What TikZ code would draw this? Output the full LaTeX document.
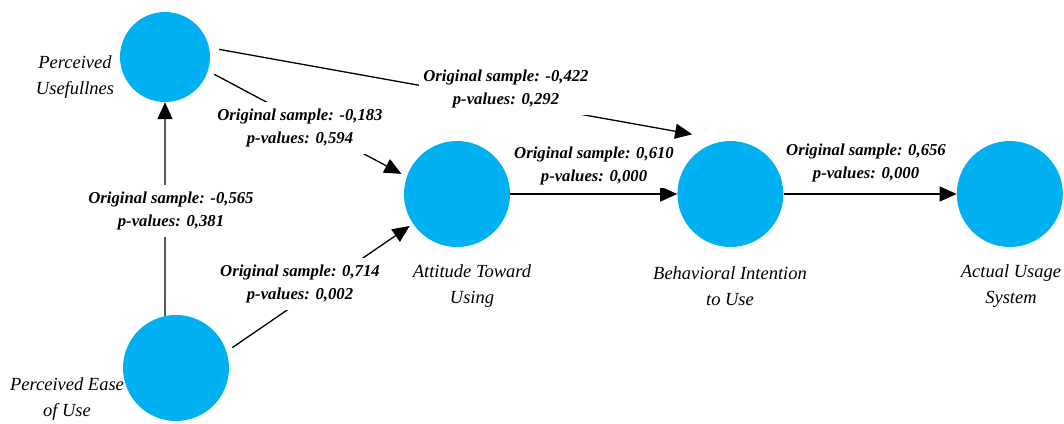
\documentclass[tikz,border=0pt]{standalone}
\usepackage{fontspec}
\setmainfont{Liberation Serif}
\usepackage{tikz}
\usetikzlibrary{arrows.meta,positioning}
\definecolor{construct}{RGB}{0,176,240}

\begin{document}
\begin{tikzpicture}[
			x=1pt, y=-1pt,
			node distance=1.5cm,
			latent/.style={circle, fill=construct, minimum size=106pt, inner sep=0pt},
			varname/.style={align=center, font=\fontsize{18.5}{26.5}\selectfont\itshape},
			coef/.style={align=center, fill=white, inner xsep=4pt, inner ysep=7pt, font=\fontsize{16.7}{23}\selectfont\bfseries\itshape},
			arrow/.style={->, >={Triangle[length=17pt, width=15pt]}, line width=1.3pt}
		]
		\useasboundingbox (0,0) rectangle (1064,423);

		% constructs
		\node[latent, minimum size=90pt] (pu) at (165,57) {};
		\node[latent] (peou) at (176,368) {};
		\node[latent] (atu) at (457,194) {};
		\node[latent, right=167pt of atu] (biu) {};
		\node[latent, right=173pt of biu] (aus) {};

		\node[varname] (pulabel) at (75,77) {Perceived\\Usefullnes};
		\node[varname] (peoulabel) at (67,399) {Perceived Ease\\of Use};
		\node[varname] (atulabel) at (472,286) {Attitude Toward\\Using};
		\node[varname] (biulabel) at (730,286) {Behavioral Intention\\to Use};
		\node[varname] (auslabel) at (1011,286) {Actual Usage\\System};

		% paths
		\draw[arrow] (peou.102) -- (pu.south);
		\draw[arrow, shorten <=7pt, shorten >=6pt] (pu.-18) -- (atu.161);
		\draw[arrow, shorten <=10pt, shorten >=37pt] (pu.12) -- (biu.92);
		\draw[arrow, shorten <=7pt, shorten >=4pt] (peou.18) -- (atu.214);
		\draw[arrow] (atu) -- (biu);
		\draw[arrow] (biu) -- (aus);

		\node[coef] (c1) at (171,211) {Original sample: -0,565\\p-values: 0,381};
		\node[coef] (c2) at (300,128) {Original sample: -0,183\\p-values: 0,594};
		\node[coef] (c3) at (506,89) {Original sample: -0,422\\p-values: 0,292};
		\node[coef] (c4) at (300,284) {Original sample: 0,714\\p-values: 0,002};
		\node[coef, inner ysep=3pt] (c5) at (594,166) {Original sample: 0,610\\p-values: 0,000};
		\node[coef, inner ysep=3pt] (c6) at (866,163) {Original sample: 0,656\\p-values: 0,000};

	\end{tikzpicture}
\end{document}
